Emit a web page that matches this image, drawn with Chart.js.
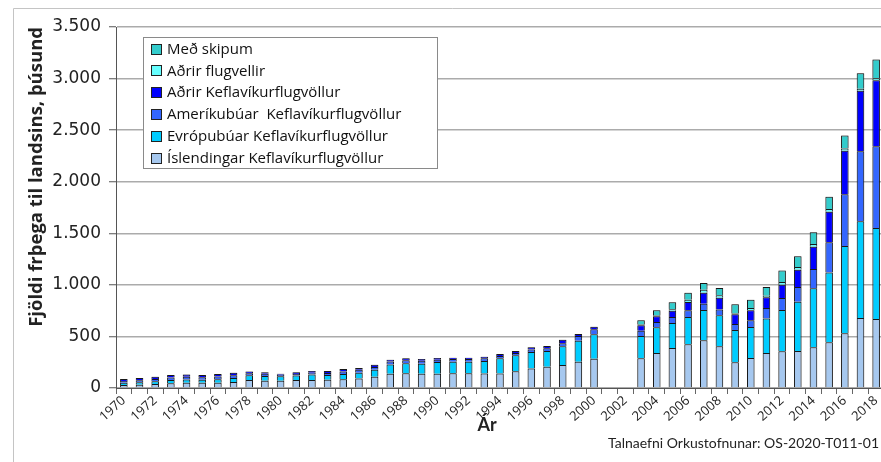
<!DOCTYPE html>
<html><head><meta charset="utf-8">
<script src="https://cdn.jsdelivr.net/npm/chart.js@4.4.1/dist/chart.umd.min.js"></script>
<style>html,body{margin:0;padding:0;background:#fff;overflow:hidden}#wrap{position:relative;width:890px;height:462px}</style>
</head><body><div id="wrap"><canvas id="c"></canvas></div>
<script>
const years = ['1970','1971','1972','1973','1974','1975','1976','1977','1978','1979','1980','1981','1982','1983','1984','1985','1986','1987','1988','1989','1990','1991','1992','1993','1994','1995','1996','1997','1998','1999','2000','2001','2002','2003','2004','2005','2006','2007','2008','2009','2010','2011','2012','2013','2014','2015','2016','2017','2018'];
const xTickLabels = ['1970','1972','1974','1976','1978','1980','1982','1984','1986','1988','1990','1992','1994','1996','1998','2000','2002','2004','2006','2008','2010','2012','2014','2016','2018'];
const yTickValues = [0,500,1000,1500,2000,2500,3000,3500];

const islendingar = [30,32,39,45,50,50,50,58,78,71,71,78,78,81,84,92,108,137,144,137,137,144,144,140,140,163,190,206,222,255,284,null,null,288,339,388,423,462,404,249,291,339,356,359,394,443,530,679,669];
const evropubuar = [22,24,26,32,33,30,35,38,45,45,42,42,52,45,52,56,70,92,95,98,115,111,111,121,148,154,160,153,183,203,236,null,null,216,249,242,265,294,301,313,300,336,400,478,572,678,847,937,882];
const amerikubuar = [17,20,23,25,26,24,27,28,19,23,16,16,19,19,23,28,25,29,29,30,23,26,26,27,22,23,23,27,30,45,49,null,null,52,52,58,65,62,55,59,65,101,117,142,188,291,501,679,792];
const adrirKef = [18,21,22,24,23,22,24,25,19,13,10,16,16,20,25,18,23,17,20,16,16,13,13,16,20,19,22,22,32,20,26,null,null,52,55,62,81,106,116,93,97,103,129,168,216,298,423,588,640];
const adrirFlugvellir = [null,null,null,null,null,null,null,null,null,null,null,null,null,null,null,null,null,null,null,null,null,null,null,null,null,null,null,null,null,null,null,null,null,9,10,13,22,29,23,10,23,16,26,26,26,26,20,19,20];
const medSkipum = [null,null,null,null,null,null,null,null,null,null,null,null,null,null,null,null,null,null,null,null,null,null,null,null,null,null,null,null,null,null,null,null,null,39,48,68,68,65,71,87,80,84,110,104,113,119,126,149,181];

const seriesNames = ['Íslendingar Keflavíkurflugvöllur','Evrópubúar Keflavíkurflugvöllur','Ameríkubúar  Keflavíkurflugvöllur','Aðrir Keflavíkurflugvöllur','Aðrir flugvellir','Með skipum'];
const seriesColors = ['#A6C8EF','#00CCFF','#3366FF','#0000FF','#66FFFF','#33CCCC'];
const seriesValues = [islendingar, evropubuar, amerikubuar, adrirKef, adrirFlugvellir, medSkipum];

const yTitle = 'Fjöldi frþega til landsins, þúsund';
const xTitle = 'Ár';
const sourceText = 'Talnaefni Orkustofnunar: OS-2020-T011-01';

Chart.defaults.font.family = '"Open Sans", Lato, sans-serif';

function fmt(v){ return v >= 1000 ? Math.floor(v/1000) + '.' + String(v % 1000).padStart(3,'0') : String(v); }

const framePlugin = {
  id:'frame',
  beforeDraw(chart){
    const ctx = chart.ctx;
    ctx.save();
    ctx.fillStyle = '#fff';
    ctx.fillRect(0,0,chart.width,chart.height);
    ctx.strokeStyle = '#c4c4c4';
    ctx.lineWidth = 1;
    ctx.beginPath();
    ctx.moveTo(13.5, chart.height + 5);
    ctx.lineTo(13.5, 8.5);
    ctx.lineTo(chart.width + 5, 8.5);
    ctx.stroke();
    ctx.restore();
  }
};

const shadowPlugin = {
  id:'barShadow',
  beforeDatasetsDraw(chart){
    const ctx = chart.ctx;
    ctx.save();
    ctx.shadowColor = 'rgba(0,0,0,0.35)';
    ctx.shadowBlur = 2;
  },
  afterDatasetsDraw(chart){ chart.ctx.restore(); }
};

const legendPlugin = {
  id:'boxLegend',
  afterDraw(chart){
    const ctx = chart.ctx;
    const x0 = 143, y0 = 37, rowH = 21.8;
    ctx.save();
    ctx.font = '15px "Open Sans", Lato, sans-serif';
    const ds = chart.data.datasets.slice().reverse();
    let maxW = 0;
    ds.forEach(d => { maxW = Math.max(maxW, ctx.measureText(d.label).width); });
    const w = Math.max(294, 24 + maxW + 6);
    ctx.fillStyle = '#fff';
    ctx.fillRect(x0, y0, w, 131);
    ctx.strokeStyle = '#8a8a8a';
    ctx.lineWidth = 1;
    ctx.strokeRect(x0 + 0.5, y0 + 0.5, w, 131);
    ds.forEach((d, i) => {
      const cy = 48.5 + i * rowH;
      ctx.fillStyle = d.backgroundColor;
      ctx.fillRect(151, Math.round(cy - 5), 10, 10);
      ctx.strokeStyle = '#222';
      ctx.strokeRect(151.5, Math.round(cy - 5) + 0.5, 10, 10);
      ctx.fillStyle = '#111';
      ctx.textBaseline = 'middle';
      ctx.textAlign = 'left';
      ctx.fillText(d.label, 167, cy + 1);
    });
    ctx.restore();
  }
};

const textPlugin = {
  id:'extraText',
  afterDraw(chart){
    const ctx = chart.ctx;
    ctx.save();
    ctx.font = '14px Lato, "Open Sans", sans-serif';
    ctx.fillStyle = '#222';
    ctx.textAlign = 'right';
    ctx.textBaseline = 'middle';
    ctx.fillText(sourceText, 879, 443);
    ctx.font = 'bold 18px Lato, "Open Sans", sans-serif';
    ctx.textAlign = 'center';
    ctx.fillText(xTitle, 487, 425);
    ctx.restore();
  }
};

new Chart(document.getElementById('c'), {
  type:'bar',
  data:{
    labels: years,
    datasets: seriesNames.map((n, i) => ({
      label: n,
      data: seriesValues[i],
      backgroundColor: seriesColors[i],
      borderColor: '#1a1a1a',
      borderWidth: 1,
      categoryPercentage: 1,
      barPercentage: 0.48
    }))
  },
  options:{
    responsive:true, maintainAspectRatio:false, animation:false,
    layout:{padding:{left:13, top:27, right:6, bottom:0}},
    plugins:{legend:{display:false}, tooltip:{enabled:false}},
    scales:{
      x:{
        stacked:true,
        grid:{offset:true, drawOnChartArea:false, tickLength:6, color:'#666', tickColor:'#666'},
        border:{color:'#555', width:1},
        ticks:{autoSkip:false, minRotation:42, maxRotation:42, padding:-1, font:{size:13}, color:'#222',
          callback(v, i){ return xTickLabels.includes(years[i]) ? years[i] : ''; }},
        afterFit(s){ s.height = 74; }
      },
      y:{
        stacked:true, min:0, max:3500,
        afterBuildTicks(s){ s.ticks = yTickValues.map(v => ({value:v})); },
        ticks:{padding:8, font:{size:17, family:'"DejaVu Sans", sans-serif'}, color:'#222', callback: v => fmt(v)},
        grid:{color:'#ababab', lineWidth:1.5, tickLength:7, tickColor:'#555', tickWidth:1},
        border:{color:'#555', width:1},
        title:{display:true, text:yTitle, align:'end', font:{size:18.5, weight:'bold'}, color:'#222', padding:{top:13, bottom:0}},
        afterFit(s){ s.width = 103; }
      }
    }
  },
  plugins:[framePlugin, shadowPlugin, legendPlugin, textPlugin]
});
</script>
</body></html>
